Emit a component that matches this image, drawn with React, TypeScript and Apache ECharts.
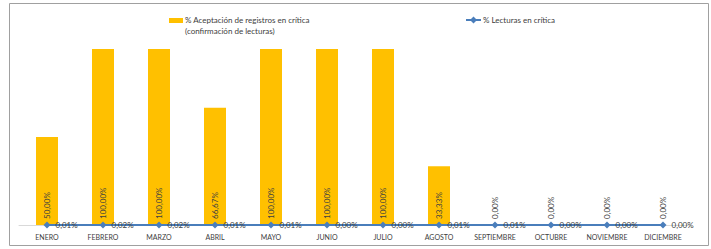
import React, { useEffect, useRef } from "react";
import * as echarts from "echarts";

const categories = ["ENERO", "FEBRERO", "MARZO", "ABRIL", "MAYO", "JUNIO", "JULIO", "AGOSTO", "SEPTIEMBRE", "OCTUBRE", "NOVIEMBRE", "DICIEMBRE"];
const aceptacion = [50, 100, 100, 66.67, 100, 100, 100, 33.33, 0, 0, 0, 0];
const lecturas = [0.01, 0.02, 0.02, 0.01, 0.01, 0.0, 0.0, 0.01, 0.01, 0.0, 0.0, 0.0];
const barName = "% Aceptación de registros en crítica";
const barName2 = "(confirmación de lecturas)";
const lineName = "% Lecturas en crítica";

const fmt = (v: number) => v.toFixed(2).replace(".", ",") + "%";
const FONT = "Lato, 'Open Sans', sans-serif";

export default function App() {
  const ref = useRef<HTMLDivElement>(null);
  useEffect(() => {
    const chart = echarts.init(ref.current!, null, { renderer: "svg" });
    chart.setOption({
      animation: false,
      textStyle: { fontFamily: FONT },
      grid: { left: 19, right: 20, top: 49, bottom: 24, containLabel: false },
      xAxis: {
        type: "category",
        data: categories,
        axisLine: { lineStyle: { color: "#d9d9d9", width: 1 } },
        axisTick: { show: false },
        axisLabel: { fontSize: 7, color: "#404040", margin: 8, fontFamily: FONT, interval: 0 },
      },
      yAxis: { type: "value", min: 0, max: 100, show: false, splitLine: { show: false } },
      series: [
        {
          name: barName,
          type: "bar",
          data: aceptacion,
          barWidth: 22,
          itemStyle: { color: "#FFC000" },
          label: {
            show: true,
            position: "insideBottom",
            rotate: 90,
            align: "left",
            verticalAlign: "middle",
            distance: 6,
            fontSize: 8,
            color: "#404040",
            fontFamily: FONT,
            formatter: (p: any) => fmt(p.value),
          },
        },
        {
          name: lineName,
          type: "line",
          data: lecturas,
          symbol: "diamond",
          symbolSize: 7,
          lineStyle: { color: "#4a7ebb", width: 2 },
          itemStyle: { color: "#4a7ebb" },
          label: {
            show: true,
            position: "right",
            distance: 5,
            fontSize: 8,
            color: "#404040",
            fontFamily: FONT,
            formatter: (p: any) => fmt(p.value),
          },
          z: 5,
        },
      ],
      graphic: [
        {
          type: "rect",
          shape: { x: 9.5, y: 3.5, width: 699, height: 242 },
          style: { fill: "none", stroke: "#a0a0a0", lineWidth: 1 },
          silent: true,
        },
        { type: "rect", shape: { x: 169, y: 18, width: 14, height: 5 }, style: { fill: "#FFC000" } },
        {
          type: "text",
          x: 185,
          y: 20,
          style: { text: barName, fontSize: 8, fill: "#404040", fontFamily: FONT, verticalAlign: "middle" },
        },
        {
          type: "text",
          x: 185,
          y: 31,
          style: { text: barName2, fontSize: 8, fill: "#404040", fontFamily: FONT, verticalAlign: "middle" },
        },
        { type: "line", shape: { x1: 466, y1: 20, x2: 481, y2: 20 }, style: { stroke: "#4a7ebb", lineWidth: 2 } },
        {
          type: "polygon",
          shape: { points: [[473.5, 16.5], [477, 20], [473.5, 23.5], [470, 20]] },
          style: { fill: "#4a7ebb" },
        },
        {
          type: "text",
          x: 483,
          y: 20,
          style: { text: lineName, fontSize: 8, fill: "#404040", fontFamily: FONT, verticalAlign: "middle" },
        },
      ],
    });
    return () => chart.dispose();
  }, []);
  return <div ref={ref} style={{ position: "absolute", left: 0, top: 0, width: 711, height: 249 }} />;
}
